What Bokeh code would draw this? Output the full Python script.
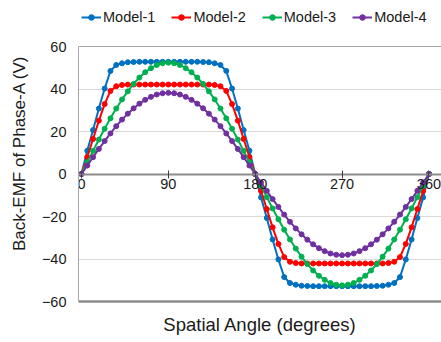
from bokeh.plotting import figure
from bokeh.models import Range1d, LinearAxis, FixedTicker, Legend, LegendItem, Span
from bokeh.embed import file_html
from bokeh.resources import INLINE

# ---- data (one point every 6 degrees) ----
angles = list(range(0, 361, 6))

model_1 = [0.0, 11.0, 20.7, 30.8, 40.2, 48.5, 51.3, 52.1, 52.6, 52.7,
           52.8, 52.8, 52.8, 52.8, 52.8, 52.8, 52.8, 52.8, 52.8, 52.8,
           52.8, 52.7, 52.6, 52.1, 51.3, 48.5, 40.2, 30.8, 20.7, 11.0,
           0.0, -11.0, -20.7, -30.8, -40.2, -48.5, -51.3, -52.1, -52.6, -52.7,
           -52.8, -52.8, -52.8, -52.8, -52.8, -52.8, -52.8, -52.8, -52.8, -52.8,
           -52.8, -52.7, -52.6, -52.1, -51.3, -48.5, -40.2, -30.8, -20.7, -11.0,
           0.0]

model_2 = [0.0, 7.9, 16.5, 25.1, 32.9, 39.1, 41.3, 41.9, 42.1, 42.1,
           42.1, 42.1, 42.1, 42.1, 42.1, 42.1, 42.1, 42.1, 42.1, 42.1,
           42.1, 42.1, 42.1, 41.9, 41.3, 39.1, 32.9, 25.1, 16.5, 7.9,
           0.0, -7.9, -16.5, -25.1, -32.9, -39.1, -41.3, -41.9, -42.1, -42.1,
           -42.1, -42.1, -42.1, -42.1, -42.1, -42.1, -42.1, -42.1, -42.1, -42.1,
           -42.1, -42.1, -42.1, -41.9, -41.3, -39.1, -32.9, -25.1, -16.5, -7.9,
           0.0]

model_3 = [0.0, 5.5, 10.9, 16.2, 21.3, 26.2, 30.8, 35.1, 38.9, 42.4,
           45.4, 47.9, 49.8, 51.3, 52.1, 52.4, 52.1, 51.3, 49.8, 47.9,
           45.4, 42.4, 38.9, 35.1, 30.8, 26.2, 21.3, 16.2, 10.9, 5.5,
           0.0, -5.5, -10.9, -16.2, -21.3, -26.2, -30.8, -35.1, -38.9, -42.4,
           -45.4, -47.9, -49.8, -51.3, -52.1, -52.4, -52.1, -51.3, -49.8, -47.9,
           -45.4, -42.4, -38.9, -35.1, -30.8, -26.2, -21.3, -16.2, -10.9, -5.5,
           0.0]

model_4 = [0.0, 4.0, 7.9, 11.8, 15.5, 19.1, 22.5, 25.6, 28.4, 30.9,
           33.1, 34.9, 36.3, 37.4, 38.0, 38.2, 38.0, 37.4, 36.3, 34.9,
           33.1, 30.9, 28.4, 25.6, 22.5, 19.1, 15.5, 11.8, 7.9, 4.0,
           0.0, -4.0, -7.9, -11.8, -15.5, -19.1, -22.5, -25.6, -28.4, -30.9,
           -33.1, -34.9, -36.3, -37.4, -38.0, -38.2, -38.0, -37.4, -36.3, -34.9,
           -33.1, -30.9, -28.4, -25.6, -22.5, -19.1, -15.5, -11.8, -7.9, -4.0,
           0.0]

series_names = ["Model-1", "Model-2", "Model-3", "Model-4"]
series_values = [model_1, model_2, model_3, model_4]
series_colors = ["#0070C0", "#FF0000", "#00B050", "#7030A0"]

x_ticks = [0, 90, 180, 270, 360]
y_ticks = [-60, -40, -20, 0, 20, 40, 60]

FONT = "Liberation Sans"
TEXT = "#1a1a1a"

# frame reaches the top of the canvas so the legend (drawn inside it) is not clipped;
# the visible value box is -60..60
p = figure(width=441, height=340, output_backend="svg", toolbar_location=None,
           x_range=Range1d(-3.1, 373.0), y_range=Range1d(-60, 81.65),
           min_border_left=78, min_border_right=0, min_border_top=0,
           min_border_bottom=39, outline_line_color=None,
           background_fill_color="white", border_fill_color="white")

# bottom axis: frame border + title only
bx = p.xaxis[0]
bx.ticker = FixedTicker(ticks=[])
bx.axis_line_color = "#8c8c8c"
bx.axis_line_width = 2.5
bx.major_tick_line_color = None
bx.minor_tick_line_color = None
bx.major_label_text_font_size = "0px"
bx.major_label_standoff = 0
bx.axis_label = "Spatial Angle (degrees)"
bx.axis_label_text_font = FONT
bx.axis_label_text_font_size = "18.5px"
bx.axis_label_text_font_style = "normal"
bx.axis_label_text_color = TEXT
bx.axis_label_standoff = 12

# axis through zero with ticks and labels
zx = LinearAxis(fixed_location=0, ticker=FixedTicker(ticks=x_ticks))
zx.axis_line_color = "#8c8c8c"
zx.axis_line_width = 2
zx.major_tick_in = 4
zx.major_tick_out = 4
zx.major_tick_line_color = "#404040"
zx.minor_tick_line_color = None
zx.major_label_standoff = 1
zx.major_label_text_font = FONT
zx.major_label_text_font_size = "14.5px"
zx.major_label_text_color = TEXT
p.add_layout(zx, "below")

# y axis
ya = p.yaxis[0]
ya.ticker = FixedTicker(ticks=y_ticks)
ya.bounds = (-60, 60)
ya.axis_line_color = "#a6a6a6"
ya.major_tick_line_color = None
ya.minor_tick_line_color = None
ya.major_tick_out = 0
ya.major_tick_in = 0
ya.major_label_standoff = 12
ya.major_label_text_font = FONT
ya.major_label_text_font_size = "14.5px"
ya.major_label_text_color = TEXT
ya.axis_label = "Back-EMF of Phase-A  (V)"
ya.axis_label_text_font = FONT
ya.axis_label_text_font_size = "17px"
ya.axis_label_text_font_style = "normal"
ya.axis_label_text_color = TEXT
ya.axis_label_standoff = 10

p.xgrid.visible = False
p.ygrid.ticker = FixedTicker(ticks=y_ticks)
p.ygrid.grid_line_color = "#d9d9d9"
p.ygrid.grid_line_width = 1

# top edge of the value box
p.add_layout(Span(location=y_ticks[-1], dimension="width",
                  line_color="#a6a6a6", line_width=1))

items = []
for name, ys, color in zip(series_names, series_values, series_colors):
    r1 = p.line(angles, ys, line_color=color, line_width=2)
    r2 = p.scatter(angles, ys, marker="circle", size=5, fill_color=color,
                   line_color=color)
    items.append(LegendItem(label=name, renderers=[r1, r2]))

legend = Legend(items=items, orientation="horizontal", location=(3, 276),
                padding=0, margin=0, spacing=16, glyph_width=20, glyph_height=14,
                label_standoff=2, label_text_font=FONT,
                label_text_font_size="14.5px", label_text_color=TEXT,
                border_line_color=None, background_fill_alpha=0)
p.add_layout(legend, "center")

open("out.html", "w").write(file_html(p, INLINE))
